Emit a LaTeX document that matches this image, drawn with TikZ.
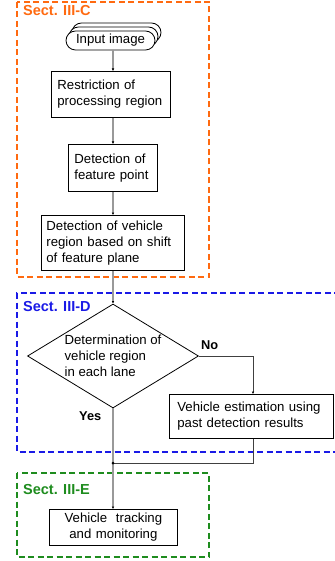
\documentclass[tikz,border=0pt]{standalone}
\usepackage{fontspec}
\setmainfont{Liberation Sans}
\usetikzlibrary{shapes.geometric,shapes.misc,arrows.meta}
\definecolor{secC}{HTML}{FF6A10}
\definecolor{secD}{HTML}{1A1AE6}
\definecolor{secE}{HTML}{1E8C1E}
\tikzset{
  x=1pt, y=-1pt,
  txt/.style={font=\fontsize{13.2}{16}\selectfont},
  box/.style={draw=black, line width=0.8pt, fill=white, rectangle, txt, align=left, anchor=north west, inner ysep=0pt},
  term/.style={draw=black, line width=0.8pt, fill=white, rounded rectangle, minimum width=89pt, minimum height=19pt, inner sep=0pt, txt},
  seclbl/.style={font=\fontsize{14.5}{16}\bfseries\selectfont, anchor=base west, inner sep=0pt},
  frame/.style={line width=1.3pt, dash pattern=on 6pt off 3.5pt},
  spine/.style={draw=black!40, line width=1.2pt},
  side/.style={draw=black!75, line width=0.7pt},
  tip/.style={-{Latex[length=2.5pt,width=2.5pt,color=black]}},
  yn/.style={font=\fontsize{12.8}{16}\bfseries\selectfont, anchor=base west, inner sep=0pt}
}
\begin{document}
\begin{tikzpicture}
\useasboundingbox (0,0) rectangle (334,561);
% section frames
\draw[frame, draw=secC] (17,2) rectangle (209,277);
\draw[frame, draw=secD] (340,293) -- (17,293) -- (17,452) -- (340,452);
\draw[frame, draw=secE] (17,473) rectangle (209,557);
\node[seclbl, text=secC] (lc) at (23,16) {Sect. III-C};
\node[seclbl, text=secD] (ld) at (23,311) {Sect. III-D};
\node[seclbl, text=secE] (le) at (23,494) {Sect. III-E};
% input image (stacked)
\node[term] (inp3) at (116.5,32.5) {};
\node[term] (inp2) at (113.5,36.5) {};
\node[term] (inp) at (110.5,40.5) {Input image};
% boxes
\node[box, inner xsep=6pt, text width=107pt, minimum height=46pt] (restr) at (51,71) {Restriction of\\processing region};
\node[box, inner xsep=6pt, text width=77pt, minimum height=47pt] (feat) at (68,144) {Detection of\\feature point};
\node[box, inner xsep=5pt, text width=133pt, minimum height=55pt] (veh) at (41,215) {Detection of vehicle\\region based on shift\\of feature plane};
\node[draw=black, line width=0.8pt, diamond, aspect=1.64, minimum width=171pt, minimum height=104pt, inner sep=-3pt, txt, align=left] (dia) at (113,356) {Determination of\\vehicle region\\in each lane};
\node[box, inner xsep=8pt, text width=148pt, minimum height=44pt] (est) at (169,394) {Vehicle estimation using\\past detection results};
\node[box, align=center, inner xsep=0pt, text width=128pt, minimum height=36pt] (trk) at (49,509) {Vehicle\ \ tracking\\and monitoring};
\node[yn] (no) at (201,349) {No};
\node[yn] (yes) at (79,420) {Yes};
% connectors
\coordinate (sx) at (113,0);
\coordinate (ex) at (253,0);
\draw[spine, tip] (inp.south -| sx) -- (restr.north -| sx);
\draw[spine, tip] (restr.south -| sx) -- (feat.north -| sx);
\draw[spine, tip] (feat.south -| sx) -- (veh.north -| sx);
\draw[spine, tip] (veh.south -| sx) -- (dia.north);
\draw[side, tip] (dia.east) -| (est.north -| ex);
\coordinate (j) at (dia.south |- 0,463);
\draw[side] (est.south -| ex) |- (j);
\draw[spine, tip] (dia.south) -- (trk.north -| sx);
\fill[black] (j) circle (1.5pt);
\end{tikzpicture}
\end{document}
